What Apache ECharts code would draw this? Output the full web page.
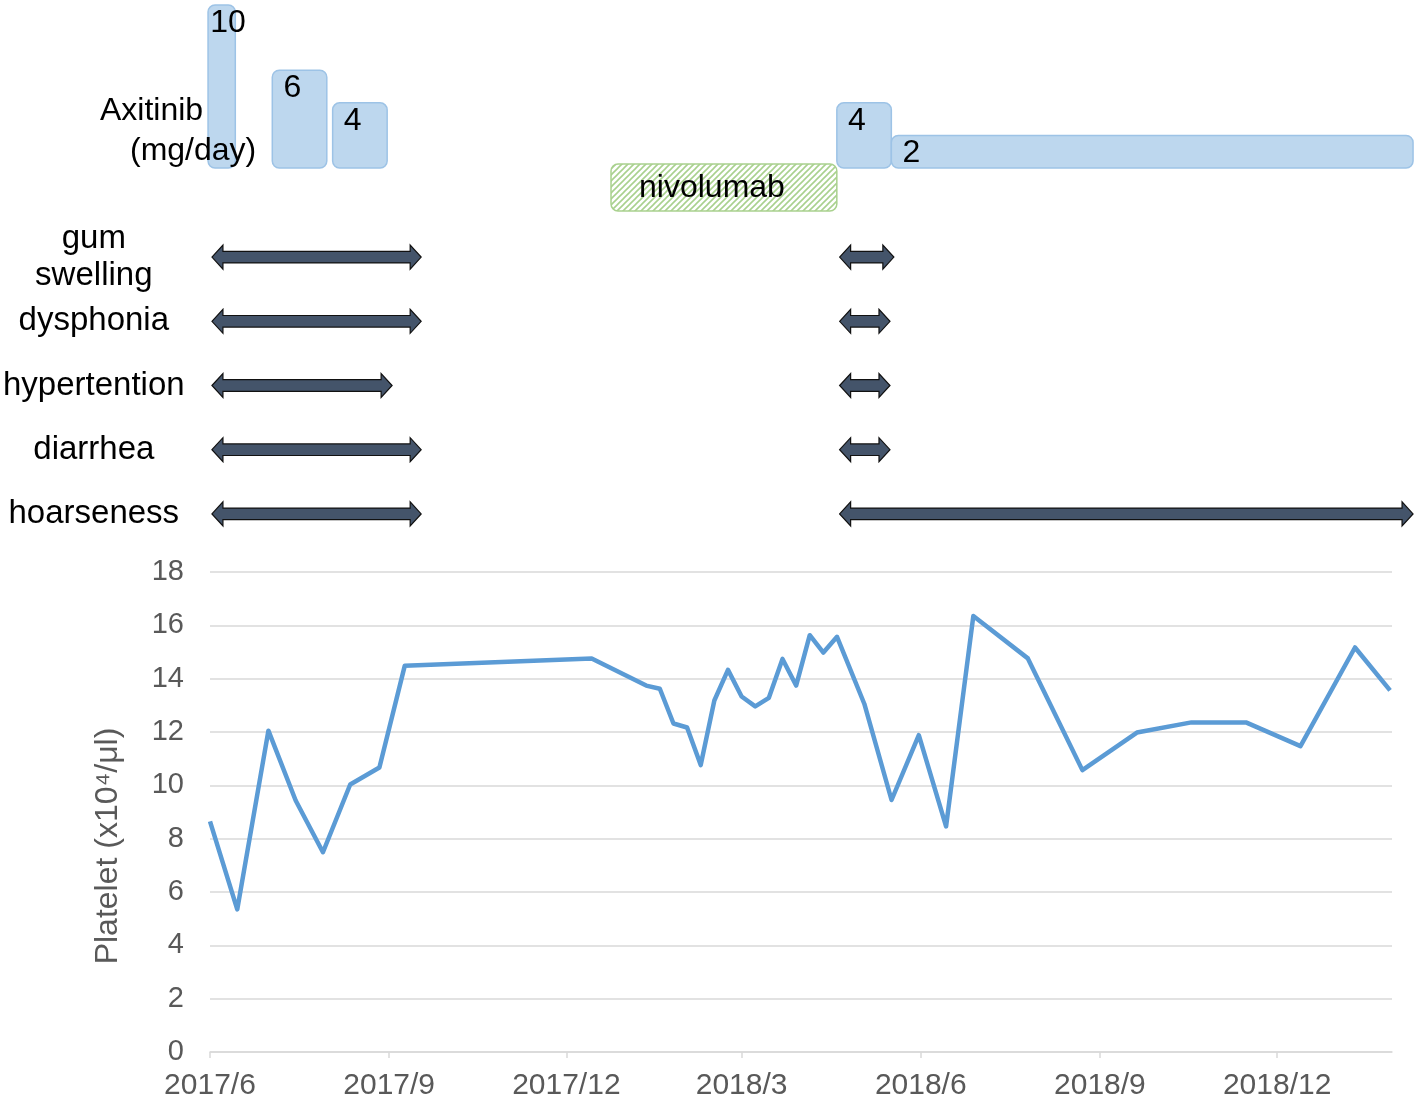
<!DOCTYPE html>
<html>
<head>
<meta charset="utf-8">
<script src="https://cdn.jsdelivr.net/npm/echarts@6/dist/echarts.min.js"></script>
<style>
html,body{margin:0;padding:0;background:#fff;}
#chart{width:1418px;height:1101px;}
</style>
</head>
<body>
<div id="chart"></div>
<script>
// ---------------- data ----------------
const xAxisMin = '2017-06-01';
const xAxisMax = '2019-01-29';
const topAxisMax = '2019-02-10';
const xTickDates = ['2017-06-01','2017-09-01','2017-12-01','2018-03-01','2018-06-01','2018-09-01','2018-12-01'];
const xTickLabels = ['2017/6','2017/9','2017/12','2018/3','2018/6','2018/9','2018/12'];
const yTickMin = 0, yTickMax = 18, yTickStep = 2;

const plateletDates = [
  '2017-06-01','2017-06-15','2017-07-01','2017-07-15','2017-07-29','2017-08-12','2017-08-27','2017-09-09',
  '2017-12-14',
  '2018-01-11','2018-01-18','2018-01-25','2018-02-01','2018-02-08','2018-02-15','2018-02-22',
  '2018-03-01','2018-03-08','2018-03-15','2018-03-22','2018-03-29','2018-04-05','2018-04-12','2018-04-19',
  '2018-05-03','2018-05-17','2018-05-31','2018-06-14','2018-06-28',
  '2018-07-26','2018-08-23','2018-09-20','2018-10-18','2018-11-15','2018-12-13','2019-01-10','2019-01-28'
];
const plateletValues = [
  8.65, 5.35, 12.05, 9.43, 7.49, 10.03, 10.67, 14.48,
  14.76,
  13.74, 13.62, 12.32, 12.17, 10.76, 13.18, 14.33,
  13.33, 12.96, 13.28, 14.74, 13.74, 15.63, 14.98, 15.57,
  13.06, 9.45, 11.88, 8.46, 16.35,
  14.76, 10.57, 11.98, 12.36, 12.36, 11.47, 15.17, 13.56
];

// Axitinib dosing periods
const doseStart = ['2017-05-31','2017-07-03','2017-08-03','2018-04-19','2018-05-17'];
const doseEnd   = ['2017-06-14','2017-07-31','2017-08-31','2018-05-17','2019-02-09'];
const doseMg    = [10, 6, 4, 4, 2];

// Nivolumab period
const nivoStart = '2017-12-24';
const nivoEnd   = '2018-04-19';

// Adverse events (rows) and their periods
const rowNames = ['gum\nswelling', 'dysphonia', 'hypertention', 'diarrhea', 'hoarseness'];
const aeRow   = [0, 0, 1, 1, 2, 2, 3, 3, 4, 4];
const aeStart = ['2017-05-30','2018-04-19','2017-05-30','2018-04-19','2017-05-30','2018-04-19','2017-05-30','2018-04-19','2017-05-30','2018-04-19'];
const aeEnd   = ['2017-09-15','2018-05-17','2017-09-15','2018-05-15','2017-08-31','2018-05-15','2017-09-15','2018-05-15','2017-09-15','2019-02-09'];

// ---------------- helpers ----------------
function ts(s){ const p = s.split('-').map(Number); return new Date(p[0], p[1]-1, p[2]).getTime(); }
const FONT = '"Liberation Sans", Arial, sans-serif';

function makeHatch(){
  const c = document.createElement('canvas');
  c.width = 6; c.height = 6;
  const g = c.getContext('2d');
  g.fillStyle = '#ffffff'; g.fillRect(0,0,6,6);
  g.strokeStyle = '#A9D18E'; g.lineWidth = 1.6;
  g.beginPath();
  g.moveTo(-1,7); g.lineTo(7,-1);
  g.moveTo(-1,1); g.lineTo(1,-1);
  g.moveTo(5,7); g.lineTo(7,5);
  g.stroke();
  return c;
}
const hatch = makeHatch();

const tickTs = xTickDates.map(ts);

const chart = echarts.init(document.getElementById('chart'), null, {renderer:'canvas'});

const topX = (gi) => ({type:'value', gridIndex:gi, min: ts(xAxisMin), max: ts(topAxisMax), show:false, scale:true});

const option = {
  animation: false,
  backgroundColor: '#ffffff',
  textStyle: {fontFamily: FONT},
  grid: [
    {left: 210, top: 5, width: 1205, height: 163},
    {left: 210, top: 225, width: 1205, height: 321},
    {left: 210, top: 572, width: 1182, height: 481},
    {left: 210, top: 164, width: 1205, height: 47}
  ],
  xAxis: [
    topX(0),
    topX(1),
    {type:'value', gridIndex:2, min: ts(xAxisMin), max: ts(xAxisMax), scale:true,
      axisLine:{show:true, onZero:false, lineStyle:{color:'#D9D9D9', width:1.5}},
      axisTick:{show:true, customValues: tickTs, length:6, lineStyle:{color:'#D9D9D9', width:1.5}},
      axisLabel:{show:true, customValues: tickTs, color:'#595959', fontSize:30, fontFamily:FONT, margin:19,
        formatter: function(v){ const i = tickTs.indexOf(v); if (i >= 0) return xTickLabels[i]; const d = new Date(v); return d.getFullYear()+'/'+(d.getMonth()+1); }},
      splitLine:{show:false}
    },
    topX(3)
  ],
  yAxis: [
    {type:'value', gridIndex:0, min:0, max:10, show:false},
    {type:'category', gridIndex:1, data: rowNames, inverse:true,
      axisLine:{show:false}, axisTick:{show:false}, splitLine:{show:false},
      axisLabel:{show:true, interval:0, align:'center', margin:122, fontSize:33, lineHeight:37, color:'#000000', fontFamily:FONT}
    },
    {type:'value', gridIndex:2, min:yTickMin, max:yTickMax, interval:yTickStep,
      name:'Platelet (x10\u2074/\u03bcl)', nameLocation:'middle', nameGap:86,
      nameTextStyle:{fontSize:32, color:'#595959', fontFamily:FONT, padding:[0,68,0,0]},
      axisLine:{show:false}, axisTick:{show:false},
      axisLabel:{color:'#595959', fontSize:29, fontFamily:FONT, margin:26},
      splitLine:{show:true, lineStyle:{color:'#D9D9D9', width:1.5}}
    },
    {type:'value', gridIndex:3, min:0, max:1, show:false}
  ],
  series: [
    {
      type:'custom', name:'Axitinib', xAxisIndex:0, yAxisIndex:0, clip:false, z:2,
      data: doseMg.map((d,i)=>[ts(doseStart[i]), ts(doseEnd[i]), d]),
      encode:{x:[0,1], y:2},
      renderItem: function(params, api){
        const p0 = api.coord([api.value(0), api.value(2)]);
        const p1 = api.coord([api.value(1), 0]);
        const x = p0[0], y = p0[1], w = p1[0]-p0[0], h = p1[1]-p0[1];
        return {type:'group', children:[
          {type:'rect', shape:{x:x, y:y, width:w, height:h, r:7},
            style:{fill:'#BDD7EE', stroke:'#9DC3E6', lineWidth:1.5}},
          {type:'text', x: x+20, y: y+18, z2:10,
            style:{text:String(api.value(2)), fill:'#000', font:'32px '+FONT, align:'center', verticalAlign:'middle'}}
        ]};
      }
    },
    {
      type:'custom', name:'nivolumab', xAxisIndex:3, yAxisIndex:3, clip:false, z:2,
      data: [[ts(nivoStart), ts(nivoEnd)]],
      encode:{x:[0,1]},
      renderItem: function(params, api){
        const p0 = api.coord([api.value(0), 1]);
        const p1 = api.coord([api.value(1), 0]);
        return {type:'group', children:[
          {type:'rect', shape:{x:p0[0], y:p0[1], width:p1[0]-p0[0], height:p1[1]-p0[1], r:7},
            style:{fill:{image:hatch, repeat:'repeat'}, stroke:'#A9D18E', lineWidth:1.5}},
          {type:'text', x:p0[0]+28, y:(p0[1]+p1[1])/2+1, z2:10,
            style:{text:'nivolumab', fill:'#000', font:'32px '+FONT, align:'left', verticalAlign:'middle'}}
        ]};
      }
    },
    {
      type:'custom', name:'adverse events', xAxisIndex:1, yAxisIndex:1, clip:false, z:3,
      data: aeRow.map((r,i)=>[ts(aeStart[i]), ts(aeEnd[i]), r]),
      encode:{x:[0,1], y:2},
      renderItem: function(params, api){
        const p0 = api.coord([api.value(0), api.value(2)]);
        const p1 = api.coord([api.value(1), api.value(2)]);
        const x0 = p0[0], x1 = p1[0], y = p0[1];
        const hh = 12, sh = 5.8, hl = 11;
        const pts = [[x0,y],[x0+hl,y-hh],[x0+hl,y-sh],[x1-hl,y-sh],[x1-hl,y-hh],[x1,y],
                     [x1-hl,y+hh],[x1-hl,y+sh],[x0+hl,y+sh],[x0+hl,y+hh]];
        return {type:'polygon', shape:{points:pts},
          style:{fill:'#44546A', stroke:'#111111', lineWidth:1.2}};
      }
    },
    {
      type:'line', name:'Platelet', xAxisIndex:2, yAxisIndex:2,
      data: plateletDates.map((d,i)=>[ts(d), plateletValues[i]]),
      showSymbol:false, symbol:'none', smooth:false,
      lineStyle:{color:'#5B9BD5', width:4.5, join:'round'},
      itemStyle:{color:'#5B9BD5'}
    }
  ],
  graphic: [
    {type:'text', left:100, top:95, z:100,
      style:{text:'Axitinib', fill:'#000', font:'32px '+FONT}},
    {type:'text', left:130, top:135, z:100,
      style:{text:'(mg/day)', fill:'#000', font:'32px '+FONT}}
  ]
};
chart.setOption(option);
</script>
</body>
</html>
